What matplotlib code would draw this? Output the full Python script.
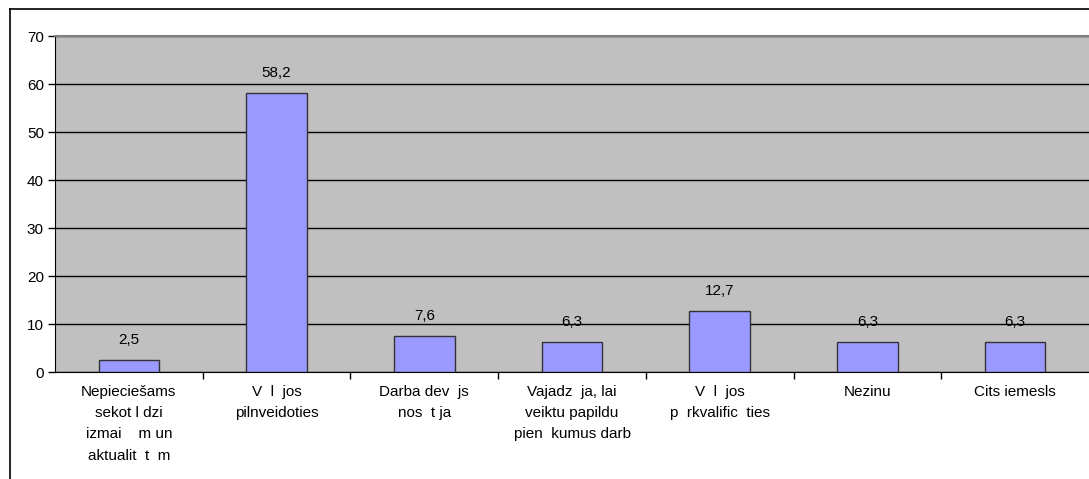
import matplotlib
matplotlib.use('Agg')
from matplotlib import pyplot as plt
from matplotlib.lines import Line2D
import numpy as np

plt.rcParams['font.family'] = ['Liberation Sans', 'DejaVu Sans']

categories = ["Nepieciešams\nsekot l dzi\nizmai    m un\naktualit  t  m",
              "V  l  jos\npilnveidoties",
              "Darba dev  js\nnos  t ja",
              "Vajadz  ja, lai\nveiktu papildu\npien  kumus darb",
              "V  l  jos\np  rkvalific  ties",
              "Nezinu",
              "Cits iemesls"]
values = [2.5, 58.2, 7.6, 6.3, 12.7, 6.3, 6.3]
value_labels = ["2,5", "58,2", "7,6", "6,3", "12,7", "6,3", "6,3"]

fs = 11

fig = plt.figure(figsize=(10.89, 4.79), dpi=100)
ax = fig.add_axes([55/1089, 1-372/479, 1-55/1089, (372-36)/479])
ax.set_facecolor('#C0C0C0')

x = np.arange(len(values))
ax.bar(x, values, width=0.41, color='#9999FF', edgecolor='#333333', linewidth=1, zorder=3)
for xi, v, lab in zip(x, values, value_labels):
    ax.text(xi, v + 2.7, lab, ha='center', va='bottom', fontsize=fs, zorder=4)

ax.set_xlim(-0.5, len(values) - 0.5)
ax.set_ylim(0, 70)
ax.set_yticks(range(0, 71, 10))
ax.yaxis.grid(True, color='black', linewidth=1, zorder=1)
ax.set_axisbelow(True)

# category labels between boundary ticks
ax.set_xticks(np.arange(0.5, len(values) - 0.5, 1))
ax.set_xticklabels([])
ax.tick_params(axis='x', direction='out', length=5, width=1)
ax.tick_params(axis='y', direction='out', length=5, width=1, labelsize=fs, pad=3)
for xi, cat in zip(x, categories):
    ax.text(xi, -2.7, cat, ha='center', va='top', fontsize=fs, linespacing=1.66)

ax.spines['left'].set_color('black')
ax.spines['bottom'].set_color('black')
ax.spines['top'].set_color('#808080')
ax.spines['top'].set_linewidth(1.5)
ax.spines['right'].set_visible(False)

# outer chart frame
fig.add_artist(Line2D([10/1089, 10/1089], [0, 1-9/479], color='black', linewidth=1.2))
fig.add_artist(Line2D([10/1089, 1], [1-9/479, 1-9/479], color='black', linewidth=1.2))

fig.savefig('out.png', dpi=100)
